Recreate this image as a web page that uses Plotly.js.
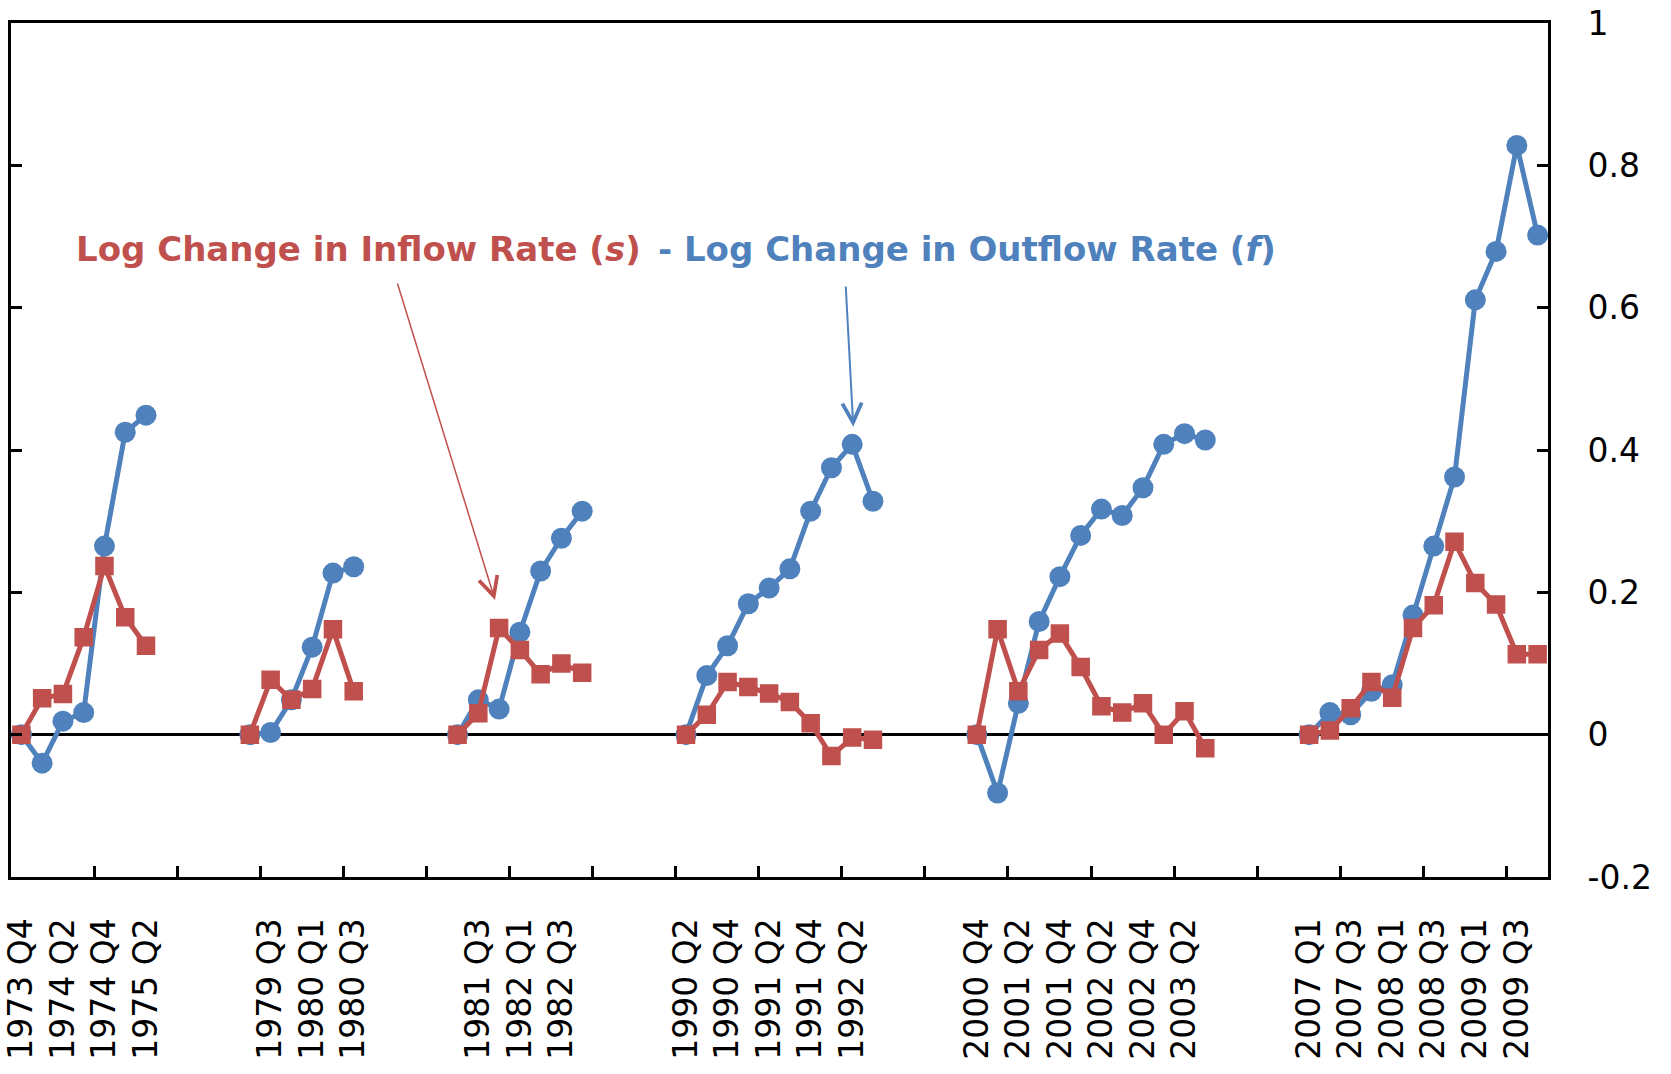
<!DOCTYPE html>
<html>
<head>
<meta charset="utf-8">
<script src="https://cdn.plot.ly/plotly-3.0.1.min.js"></script>
<style>html,body{margin:0;padding:0;background:#fff;}#chart{width:1671px;height:1074px;}</style>
</head>
<body>
<div id="chart"></div>
<script>
// ---- Data ----
const ep1Quarters = ['1973 Q4','1974 Q1','1974 Q2','1974 Q3','1974 Q4','1975 Q1','1975 Q2'];
const ep1Inflow   = [0, 0.051, 0.057, 0.137, 0.237, 0.165, 0.125];
const ep1Outflow  = [0, -0.040, 0.019, 0.031, 0.265, 0.425, 0.449];

const ep2Quarters = ['1979 Q2','1979 Q3','1979 Q4','1980 Q1','1980 Q2','1980 Q3'];
const ep2Inflow   = [0, 0.077, 0.049, 0.064, 0.148, 0.061];
const ep2Outflow  = [0, 0.003, 0.049, 0.123, 0.227, 0.236];

const ep3Quarters = ['1981 Q2','1981 Q3','1981 Q4','1982 Q1','1982 Q2','1982 Q3','1982 Q4'];
const ep3Inflow   = [0, 0.030, 0.150, 0.119, 0.085, 0.100, 0.087];
const ep3Outflow  = [0, 0.049, 0.036, 0.144, 0.230, 0.276, 0.314];

const ep4Quarters = ['1990 Q2','1990 Q3','1990 Q4','1991 Q1','1991 Q2','1991 Q3','1991 Q4','1992 Q1','1992 Q2','1992 Q3'];
const ep4Inflow   = [0, 0.028, 0.074, 0.067, 0.058, 0.046, 0.016, -0.030, -0.004, -0.007];
const ep4Outflow  = [0, 0.083, 0.125, 0.184, 0.206, 0.233, 0.314, 0.375, 0.408, 0.328];

const ep5Quarters = ['2000 Q4','2001 Q1','2001 Q2','2001 Q3','2001 Q4','2002 Q1','2002 Q2','2002 Q3','2002 Q4','2003 Q1','2003 Q2','2003 Q3'];
const ep5Inflow   = [0, 0.148, 0.061, 0.119, 0.142, 0.095, 0.040, 0.031, 0.044, 0, 0.033, -0.019];
const ep5Outflow  = [0, -0.082, 0.044, 0.159, 0.222, 0.280, 0.317, 0.308, 0.347, 0.408, 0.423, 0.414];

const ep6Quarters = ['2007 Q1','2007 Q2','2007 Q3','2007 Q4','2008 Q1','2008 Q2','2008 Q3','2008 Q4','2009 Q1','2009 Q2','2009 Q3','2009 Q4'];
const ep6Inflow   = [0, 0.006, 0.037, 0.074, 0.052, 0.150, 0.182, 0.271, 0.213, 0.183, 0.113, 0.113];
const ep6Outflow  = [0, 0.031, 0.028, 0.061, 0.070, 0.168, 0.265, 0.362, 0.611, 0.679, 0.828, 0.702];

const gapSlots = 4;           // empty category slots between episodes
const yTickVals = [-0.2, 0, 0.2, 0.4, 0.6, 0.8, 1];
const yTickText = ['-0.2', '0', '0.2', '0.4', '0.6', '0.8', '1'];
const inflowLabel  = '<b>Log Change in Inflow Rate (<i>s</i>)</b>';
const outflowLabel = '<b>- Log Change in Outflow Rate (<i>f</i>)</b>';

// ---- Build category slots with gaps ----
const episodesQ  = [ep1Quarters, ep2Quarters, ep3Quarters, ep4Quarters, ep5Quarters, ep6Quarters];
const episodesIn = [ep1Inflow, ep2Inflow, ep3Inflow, ep4Inflow, ep5Inflow, ep6Inflow];
const episodesOut= [ep1Outflow, ep2Outflow, ep3Outflow, ep4Outflow, ep5Outflow, ep6Outflow];

const cats = [], inY = [], outY = [], isGap = [];
episodesQ.forEach((qs, e) => {
  if (e > 0) {
    for (let g = 0; g < gapSlots; g++) {
      cats.push(''); inY.push(null); outY.push(null); isGap.push(true);
    }
  }
  qs.forEach((q, i) => {
    cats.push(q); inY.push(episodesIn[e][i]); outY.push(episodesOut[e][i]); isGap.push(false);
  });
});
const nCats = cats.length;
const slotIdx = cats.map((c, i) => i);
const labelIdx = slotIdx.filter(i => i % 2 === 0 && !isGap[i]);
const labelText = labelIdx.map(i => cats[i]);
const boundaryTicks = [];
for (let k = 4; k < nCats; k += 4) boundaryTicks.push(k - 0.5);

const BLUE = '#4F81BD', RED = '#C0504D';
const FONT = 'DejaVu Sans, Liberation Sans, Arial, sans-serif';

const traces = [
  { x: slotIdx, y: outY, text: cats, type: 'scatter', mode: 'lines+markers', connectgaps: false,
    line: { color: BLUE, width: 5 },
    marker: { symbol: 'circle', size: 21, color: BLUE },
    showlegend: false, hoverinfo: 'text+y' },
  { x: slotIdx, y: inY, text: cats, type: 'scatter', mode: 'lines+markers', connectgaps: false,
    line: { color: RED, width: 5 },
    marker: { symbol: 'square', size: 17, color: RED, line: { color: RED, width: 1.5 } },
    showlegend: false, hoverinfo: 'text+y' }
];

const layout = {
  width: 1671, height: 1074,
  margin: { l: 11, r: 123, t: 23, b: 197, pad: 0 },
  paper_bgcolor: '#ffffff', plot_bgcolor: '#ffffff',
  showlegend: false,
  font: { family: FONT, color: '#000' },
  xaxis: {
    type: 'linear', range: [-0.5, nCats - 0.5],
    tickmode: 'array', tickvals: labelIdx, ticktext: labelText,
    tickangle: -90, ticks: '', ticklabelstandoff: 25,
    tickfont: { family: FONT, size: 33, color: '#000' },
    minor: { tickmode: 'array', tickvals: boundaryTicks, ticks: 'inside', ticklen: 11,
             tickwidth: 2.5, tickcolor: '#000', showgrid: false },
    showline: true, linecolor: '#000', linewidth: 3, mirror: true,
    showgrid: false, zeroline: false, fixedrange: true
  },
  yaxis: {
    side: 'right', range: [-0.2, 1],
    tickmode: 'array', tickvals: yTickVals, ticktext: yTickText,
    ticks: 'inside', ticklen: 11, tickwidth: 2.5, tickcolor: '#000',
    tickfont: { family: FONT, size: 33, color: '#000' },
    ticklabelstandoff: 30,
    showline: true, linecolor: '#000', linewidth: 3, mirror: 'ticks',
    showgrid: false, zeroline: true, zerolinecolor: '#000', zerolinewidth: 3, fixedrange: true
  },
  annotations: [
    { xref: 'paper', yref: 'paper', x: 0.2261, y: 0.7354, xanchor: 'center', yanchor: 'middle',
      text: inflowLabel, showarrow: false, font: { family: FONT, size: 34, color: RED } },
    { xref: 'paper', yref: 'paper', x: 0.622, y: 0.7354, xanchor: 'center', yanchor: 'middle',
      text: outflowLabel, showarrow: false, font: { family: FONT, size: 34, color: BLUE } },
    { xref: 'paper', yref: 'paper', x: 0.3149, y: 0.3244, text: '', showarrow: true,
      arrowhead: 5, arrowsize: 2.5, arrowwidth: 1.5, arrowcolor: RED, ax: -98, ay: -318 },
    { xref: 'paper', yref: 'paper', x: 0.548, y: 0.5273, text: '', showarrow: true,
      arrowhead: 5, arrowsize: 1.9, arrowwidth: 2, arrowcolor: BLUE, ax: -7.6, ay: -141.7 }
  ]
};

Plotly.newPlot('chart', traces, layout, { displayModeBar: false, responsive: false });
</script>
</body>
</html>
